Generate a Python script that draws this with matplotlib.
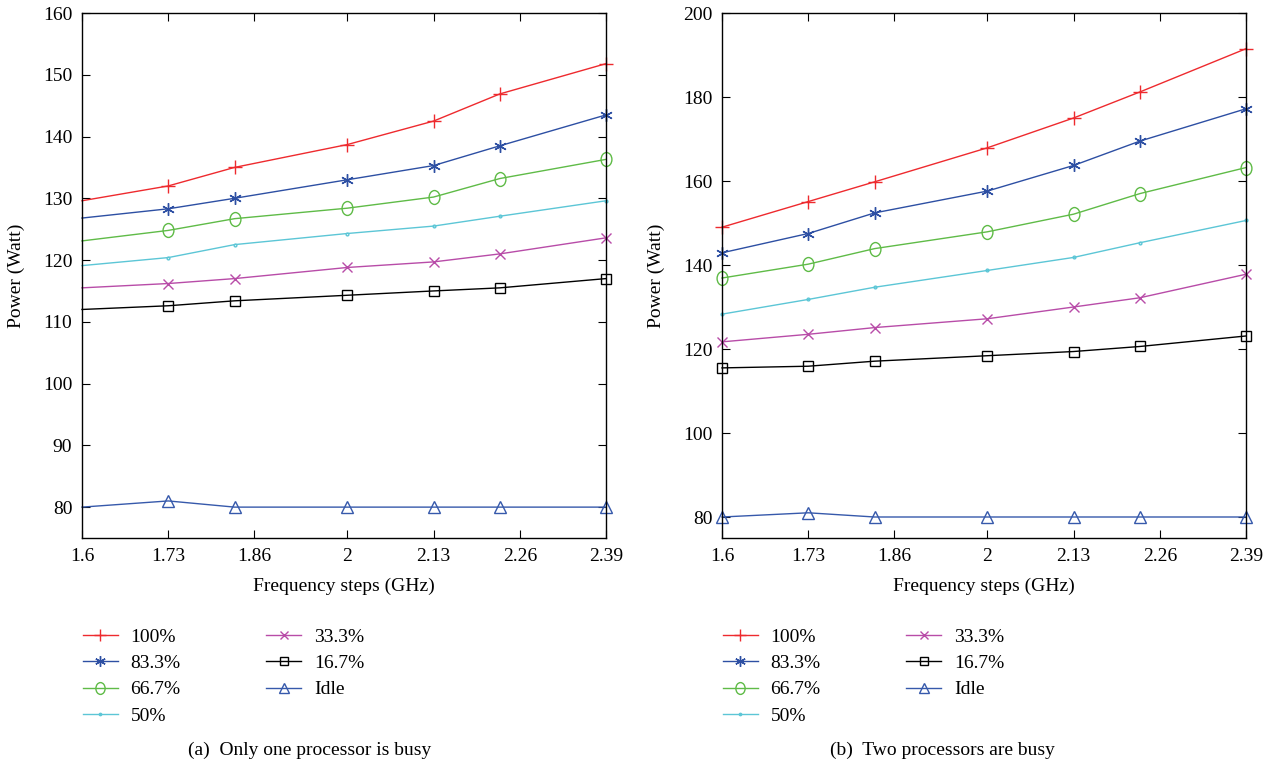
import numpy as np
import matplotlib
matplotlib.use("Agg")
import matplotlib.pyplot as plt
from matplotlib.path import Path
from matplotlib.transforms import Affine2D

plt.rcParams['font.family'] = ['Liberation Serif', 'DejaVu Serif']
plt.rcParams['font.size'] = 14

# frequency steps (GHz)
freq = [1.6, 1.73, 1.83, 2.0, 2.13, 2.23, 2.39]
xticks = [1.6, 1.73, 1.86, 2.0, 2.13, 2.26, 2.39]
xtick_labels = ["1.6", "1.73", "1.86", "2", "2.13", "2.26", "2.39"]

labels = ["100%", "83.3%", "66.7%", "50%", "33.3%", "16.7%", "Idle"]

# (a) only one processor busy
one_100 = [129.6, 132.0, 135.0, 138.7, 142.5, 146.9, 151.8]
one_83 = [126.8, 128.3, 130.0, 133.0, 135.3, 138.5, 143.5]
one_67 = [123.1, 124.8, 126.7, 128.4, 130.2, 133.2, 136.3]
one_50 = [119.1, 120.4, 122.5, 124.3, 125.5, 127.1, 129.6]
one_33 = [115.5, 116.2, 117.0, 118.8, 119.7, 121.0, 123.6]
one_17 = [112.0, 112.6, 113.4, 114.3, 115.0, 115.5, 117.0]
one_idle = [80.0, 81.0, 80.0, 80.0, 80.0, 80.0, 80.0]

# (b) two processors busy
two_100 = [149.0, 155.1, 159.8, 167.9, 175.0, 181.2, 191.5]
two_83 = [142.9, 147.5, 152.4, 157.6, 163.7, 169.5, 177.2]
two_67 = [136.9, 140.2, 143.9, 147.9, 152.1, 157.0, 163.2]
two_50 = [128.3, 131.8, 134.7, 138.7, 141.8, 145.3, 150.6]
two_33 = [121.7, 123.5, 125.1, 127.2, 130.0, 132.2, 137.8]
two_17 = [115.5, 115.9, 117.1, 118.4, 119.4, 120.6, 123.1]
two_idle = [80.0, 81.0, 80.0, 80.0, 80.0, 80.0, 80.0]

# tall ellipse marker for the 66.7% series
ellipse = Affine2D().scale(0.78, 1.0).transform_path(Path.unit_circle())

colors = ['#ee2a2e', '#2d4fa3', '#5fbb47', '#5cc6d6', '#b84ca8', '#000000', '#3659ab']
markers = ['+', (6, 2, 0), ellipse, '.', 'x', 's', '^']
msizes = [9.5, 9, 10, 4, 7, 7.5, 8.5]

W, H = 1275, 765
fig = plt.figure(figsize=(12.75, 7.65), dpi=100)
ax1 = fig.add_axes([82 / W, 1 - 538 / H, 524 / W, 525 / H])
ax2 = fig.add_axes([722 / W, 1 - 538 / H, 524 / W, 525 / H])


def draw_panel(ax, series, ylim, yticks, mark_from):
    lines = []
    for ys, c, m, ms, lab in zip(series, colors, markers, msizes, labels):
        ln, = ax.plot(freq, ys, color=c, marker=m, markersize=ms,
                      markerfacecolor='none', markeredgecolor=c,
                      markeredgewidth=1.0, linewidth=1.0, label=lab,
                      markevery=slice(mark_from, None), clip_on=False)
        lines.append(ln)
    ax.set_xlim(1.6, 2.39)
    ax.set_ylim(*ylim)
    ax.set_xticks(xticks)
    ax.set_xticklabels(xtick_labels)
    ax.set_yticks(yticks)
    ax.tick_params(direction='in', top=True, right=True, length=6, pad=7)
    ax.set_xlabel("Frequency steps (GHz)", labelpad=9)
    ax.set_ylabel("Power (Watt)")
    ax.yaxis.set_label_coords(-0.108, 0.5)
    for sp in ax.spines.values():
        sp.set_linewidth(1.0)
    return lines


lines1 = draw_panel(ax1, [one_100, one_83, one_67, one_50, one_33, one_17, one_idle],
                    (75, 160), np.arange(80, 161, 10), 1)
lines2 = draw_panel(ax2, [two_100, two_83, two_67, two_50, two_33, two_17, two_idle],
                    (75, 200), np.arange(80, 201, 20), 0)

leg_kw = dict(ncol=2, frameon=False, loc='upper left', handlelength=1.8,
              columnspacing=4.4, labelspacing=0.44, handletextpad=0.67,
              markerscale=0.85, bbox_transform=fig.transFigure)
fig.legend(lines1, labels, bbox_to_anchor=(65 / W, 1 - 611 / H), **leg_kw)
fig.legend(lines2, labels, bbox_to_anchor=(705 / W, 1 - 611 / H), **leg_kw)

fig.text(310 / W, 1 - 750 / H, "(a)  Only one processor is busy",
         ha='center', va='center')
fig.text(942 / W, 1 - 750 / H, "(b)  Two processors are busy",
         ha='center', va='center')

fig.savefig("out.png", dpi=100)
